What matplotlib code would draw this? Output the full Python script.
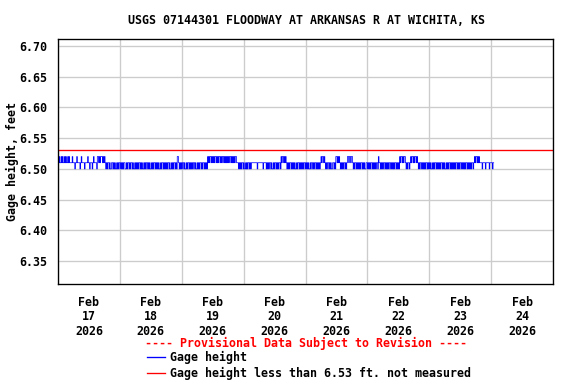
import numpy as np
import pandas as pd
import matplotlib
matplotlib.use("Agg")
import matplotlib.pyplot as plt
import matplotlib.dates as mdates
from matplotlib.ticker import FixedLocator, FuncFormatter

# gage height readings, 15-minute steps from Feb 17 00:00
# each digit = hundredths of a foot above 6.50
readings = [
    "2121121211212112121",
    "111211101121111012111101111211011101211110",
    "221212221212",
    "1010110100110101001010110101011001011010"
    "1101001010101101010010101101010010101101"
    "01010010110101010110100101011010",
    "22",
    "101010110100101101010101101001010110101101010",
    "2121221212122121212212122121212121221212121221",
    "1101010110100101011010",
    "11111111101111111101111",
    "01010110100101101010110",
    "21221212",
    "101010110101010010110101010110101010010110101101010101",
    "212212",
    "10101101010011010",
    "221212",
    "101010110101",
    "22122122",
    "1010110101010110101001101010110101010110",
    "21",
    "1010101101010101101010101101010",
    "212212122",
    "10101101",
    "21221212212",
    "1010110101010110101010010101101010101101010010101101010101011010101101010101101010101101",
    "21221212",
    "11110111101111101111011",
]
base_level = 6.50
threshold = 6.53

levels = np.array([int(c) for c in "".join(readings)])
gage = base_level + levels * 0.01
times = pd.date_range("2026-02-17 00:00", periods=len(gage), freq="15min")

day_starts = pd.date_range("2026-02-17", "2026-02-25", freq="D")
label_days = pd.date_range("2026-02-17 12:00", periods=8, freq="D")
y_ticks = [6.35, 6.40, 6.45, 6.50, 6.55, 6.60, 6.65, 6.70]

mono = "DejaVu Sans Mono"
fs = 8.7

fig = plt.figure(figsize=(6, 4), dpi=96)
ax = fig.add_axes([58 / 576, 1 - 284 / 384, 495 / 576, 245 / 384])

ax.plot(times, gage, color="blue", lw=0.55, drawstyle="steps-post", label="Gage height")
ax.axhline(threshold, color="red", lw=1.0, label="Gage height less than 6.53 ft. not measured")

ax.set_xlim(day_starts[0], day_starts[-1])
ax.set_ylim(6.313, 6.711)

ax.xaxis.set_major_locator(FixedLocator(mdates.date2num(day_starts)))
ax.xaxis.set_major_formatter(FuncFormatter(lambda v, p: ""))
ax.xaxis.set_minor_locator(FixedLocator(mdates.date2num(label_days)))
ax.xaxis.set_minor_formatter(mdates.DateFormatter("%b\n%d\n%Y"))
ax.set_yticks(y_ticks)
ax.yaxis.set_major_formatter(FuncFormatter(lambda v, p: f"{v:.2f}"))

ax.tick_params(axis="both", which="both", length=0)
ax.tick_params(axis="x", which="minor", pad=9)
ax.tick_params(axis="y", pad=8)
for lab in ax.get_xticklabels(minor=True) + ax.get_yticklabels():
    lab.set_fontfamily(mono)
    lab.set_fontweight("bold")
    lab.set_fontsize(fs)
for lab in ax.get_xticklabels(minor=True):
    lab.set_linespacing(1.15)

ax.grid(True, which="major", color="#cccccc", lw=1.0)
ax.set_axisbelow(True)
for sp in ax.spines.values():
    sp.set_color("black")
    sp.set_linewidth(1.0)

ax.set_ylabel("Gage height, feet", fontfamily=mono, fontweight="bold", fontsize=fs, labelpad=0)

fig.text(306 / 576, 1 - 20 / 384, "USGS 07144301 FLOODWAY AT ARKANSAS R AT WICHITA, KS",
         ha="center", va="center", fontfamily=mono, fontweight="bold", fontsize=fs)
fig.text(306 / 576, 1 - 343 / 384, "---- Provisional Data Subject to Revision ----",
         ha="center", va="center", color="red", fontfamily=mono, fontweight="bold", fontsize=fs)

handles, labels = ax.get_legend_handles_labels()
leg = fig.legend(handles, labels, loc="upper left", bbox_to_anchor=(147 / 576, 1 - 351 / 384),
                 frameon=False, borderpad=0, borderaxespad=0, handlelength=1.55,
                 handletextpad=0.45, labelspacing=0.28,
                 prop={"family": mono, "weight": "bold", "size": fs})
for ln in leg.get_lines():
    ln.set_linewidth(1.0)

fig.savefig("out.png", dpi=96)
